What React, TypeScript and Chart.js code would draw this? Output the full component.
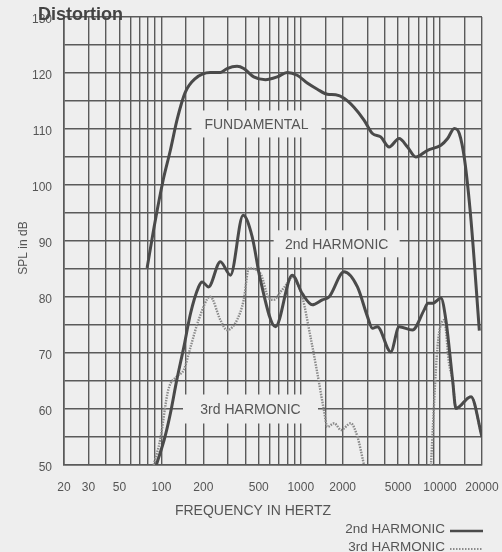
import React, { useEffect, useRef } from "react";
import { Chart, registerables } from "chart.js";

Chart.register(...registerables);

// ---- data ----
const fundFreq = [79, 90, 103, 116, 130, 148, 175, 224, 265, 296, 349, 390, 460, 558, 678, 800, 944, 1114, 1316, 1553, 1782, 2047, 2411, 2846, 3272, 3750, 4306, 5083, 5836, 6700, 8127, 10140, 11330, 12650, 13740, 15000, 16680, 19140];
const fundDb = [85.2, 93.4, 100.9, 106.2, 111.8, 116.5, 119, 120.1, 120.1, 120.8, 121.2, 120.8, 119.3, 118.8, 119.3, 120.1, 119.6, 118.2, 117.1, 116.2, 116.1, 115.5, 113.9, 111.6, 109.2, 108.6, 106.8, 108.3, 106.8, 105, 106.2, 107.1, 108.3, 110.1, 109.2, 104.5, 93.7, 74];

const secondFreq = [92, 106, 116, 129, 145, 162, 185, 196, 218, 265, 313, 386, 448, 514, 659, 869, 1026, 1211, 1429, 1595, 2047, 2553, 3013, 3272, 3550, 4430, 5083, 6340, 7690, 8180, 8900, 10140, 11010, 12300, 13000, 16680, 20000];
const secondDb = [50, 55, 59.2, 65.2, 71.1, 77.1, 81.8, 82.7, 81.8, 86.3, 83.9, 94.6, 90.8, 83, 74.7, 83.9, 80.6, 78.6, 79.5, 80, 84.5, 81.8, 76.5, 74.4, 74.7, 70.2, 74.7, 74.1, 77.7, 78.9, 78.9, 79.8, 75.9, 65.2, 60.1, 62.2, 55];

const thirdFreq = [88, 98, 112, 129, 145, 162, 185, 224, 265, 296, 349, 390, 424, 514, 590, 640, 715, 800, 869, 944, 1026, 1175, 1316, 1467, 1553, 1740, 1949, 2284, 2553, 2846, 5000, 8600, 9590, 10710, 11590, 12300, 13000, 16680, 20000];
const thirdDb = [50, 54.5, 63.4, 65.8, 67, 71.1, 75.9, 80.05, 75.9, 74.1, 75.9, 79.5, 85.1, 84.2, 79.8, 79.5, 80.9, 82.4, 83.6, 82.4, 80.05, 72.9, 66.4, 59.8, 56.8, 57.45, 56.25, 57.45, 55.05, 50, null, 50, 71.1, 75.9, 68.2, 65.2, 60.1, 62.2, 55];

const gridFreqs = [20, 30, 40, 50, 60, 70, 80, 90, 100, 150, 200, 300, 400, 500, 600, 700, 800, 900, 1000, 1500, 2000, 3000, 4000, 5000, 6000, 7000, 8000, 9000, 10000, 15000, 20000];
const xTickLabels = [20, 30, 50, 100, 200, 500, 1000, 2000, 5000, 10000, 20000];
const yTickLabels = [50, 60, 70, 80, 90, 100, 110, 120, 130];

const curveLabels = ["FUNDAMENTAL", "2nd HARMONIC", "3rd HARMONIC"];
const curveLabelFreq = [481, 1811, 436];
const curveLabelDb = [110.9, 89.5, 60];

// ---- style ----
const BG = "#eeeeee";
const INK = "#4a4a4a";
const GRID = "#5a5a5a";
const TXT = "#555555";
const FONT = "'Liberation Sans', Arial, Helvetica, sans-serif";
const labelBox = [
  { w: 130, h: 27 },
  { w: 126, h: 27 },
  { w: 135, h: 29 },
];

const toPts = (xs: number[], ys: (number | null)[]) => xs.map((x, i) => ({ x, y: ys[i] }));

const decor = {
  id: "decor",
  beforeDraw(chart: any) {
    const { ctx, width, height } = chart;
    ctx.save();
    ctx.fillStyle = BG;
    ctx.fillRect(0, 0, width, height);
    ctx.restore();
  },
  beforeDatasetsDraw(chart: any) {
    const { ctx, scales } = chart;
    ctx.save();
    curveLabels.forEach((t, i) => {
      const cx = scales.x.getPixelForValue(curveLabelFreq[i]);
      const cy = scales.y.getPixelForValue(curveLabelDb[i]);
      const b = labelBox[i];
      ctx.fillStyle = BG;
      ctx.fillRect(cx - b.w / 2, cy - b.h / 2, b.w, b.h);
      ctx.fillStyle = TXT;
      ctx.font = `14px ${FONT}`;
      ctx.textAlign = "center";
      ctx.textBaseline = "middle";
      ctx.fillText(t, cx, cy + 1);
    });
    ctx.restore();
  },
  afterDraw(chart: any) {
    const { ctx } = chart;
    ctx.save();
    // title
    ctx.fillStyle = "#444444";
    ctx.font = `bold 18px ${FONT}`;
    ctx.textAlign = "left";
    ctx.textBaseline = "alphabetic";
    ctx.fillText("Distortion", 38, 20);
    // x title
    ctx.fillStyle = TXT;
    ctx.font = `14px ${FONT}`;
    ctx.textAlign = "center";
    ctx.fillText("FREQUENCY IN HERTZ", 253, 515);
    // y title
    ctx.save();
    ctx.translate(27, 248);
    ctx.rotate(-Math.PI / 2);
    ctx.font = `12px ${FONT}`;
    ctx.textAlign = "center";
    ctx.fillText("SPL in dB", 0, 0);
    ctx.restore();
    // legend
    ctx.font = `13.5px ${FONT}`;
    ctx.textAlign = "right";
    ctx.fillText("2nd HARMONIC", 445, 533);
    ctx.fillText("3rd HARMONIC", 445, 551);
    ctx.strokeStyle = INK;
    ctx.lineWidth = 2.5;
    ctx.beginPath();
    ctx.moveTo(450, 531);
    ctx.lineTo(483, 531);
    ctx.stroke();
    ctx.strokeStyle = "#8a8a8a";
    ctx.lineWidth = 2;
    ctx.setLineDash([1.5, 1.5]);
    ctx.beginPath();
    ctx.moveTo(450, 549);
    ctx.lineTo(483, 549);
    ctx.stroke();
    ctx.restore();
  },
};

export default function App() {
  const ref = useRef<HTMLCanvasElement | null>(null);
  useEffect(() => {
    if (!ref.current) return;
    const chart = new Chart(ref.current, {
      type: "line",
      data: {
        datasets: [
          {
            label: "FUNDAMENTAL",
            data: toPts(fundFreq, fundDb),
            borderColor: INK,
            borderWidth: 3,
            pointRadius: 0,
            cubicInterpolationMode: "monotone",
          },
          {
            label: "2nd HARMONIC",
            data: toPts(secondFreq, secondDb),
            borderColor: INK,
            borderWidth: 3,
            pointRadius: 0,
            cubicInterpolationMode: "monotone",
          },
          {
            label: "3rd HARMONIC",
            data: toPts(thirdFreq, thirdDb),
            borderColor: "#8a8a8a",
            borderWidth: 2.4,
            borderDash: [1.5, 1.2],
            pointRadius: 0,
            spanGaps: false,
            cubicInterpolationMode: "monotone",
          },
        ] as any,
      },
      options: {
        responsive: false,
        animation: false,
        layout: { padding: { left: 0, top: 17, right: 20, bottom: 0 } },
        plugins: { legend: { display: false }, title: { display: false }, tooltip: { enabled: false } },
        scales: {
          x: {
            type: "logarithmic",
            min: 20,
            max: 20000,
            afterBuildTicks: (s: any) => {
              s.ticks = gridFreqs.map((v) => ({ value: v }));
            },
            afterFit: (s: any) => {
              s.height = 87;
              s.paddingLeft = 0;
              s.paddingRight = 0;
            },
            grid: { color: GRID, lineWidth: 1.4, drawTicks: false },
            border: { color: GRID, width: 1.6 },
            ticks: {
              autoSkip: false,
              maxRotation: 0,
              minRotation: 0,
              padding: 15,
              color: TXT,
              font: { family: FONT, size: 12 },
              callback: (v: any) => (xTickLabels.includes(Number(v)) ? String(v) : ""),
            },
          },
          y: {
            min: 50,
            max: 130,
            afterFit: (s: any) => {
              s.width = 64;
              s.paddingTop = 0;
              s.paddingBottom = 0;
            },
            grid: { color: GRID, lineWidth: 1.4, drawTicks: false },
            border: { color: GRID, width: 1.6 },
            ticks: {
              stepSize: 5,
              padding: 12,
              labelOffset: 3,
              color: TXT,
              font: { family: FONT, size: 12 },
              callback: (v: any) => (yTickLabels.includes(Number(v)) ? String(v) : ""),
            },
          },
        },
      } as any,
      plugins: [decor],
    });
    return () => chart.destroy();
  }, []);
  return (
    <div style={{ position: "absolute", left: 0, top: 0, width: 502, height: 552 }}>
      <canvas ref={ref} width={502} height={552} style={{ width: 502, height: 552, display: "block" }} />
    </div>
  );
}
